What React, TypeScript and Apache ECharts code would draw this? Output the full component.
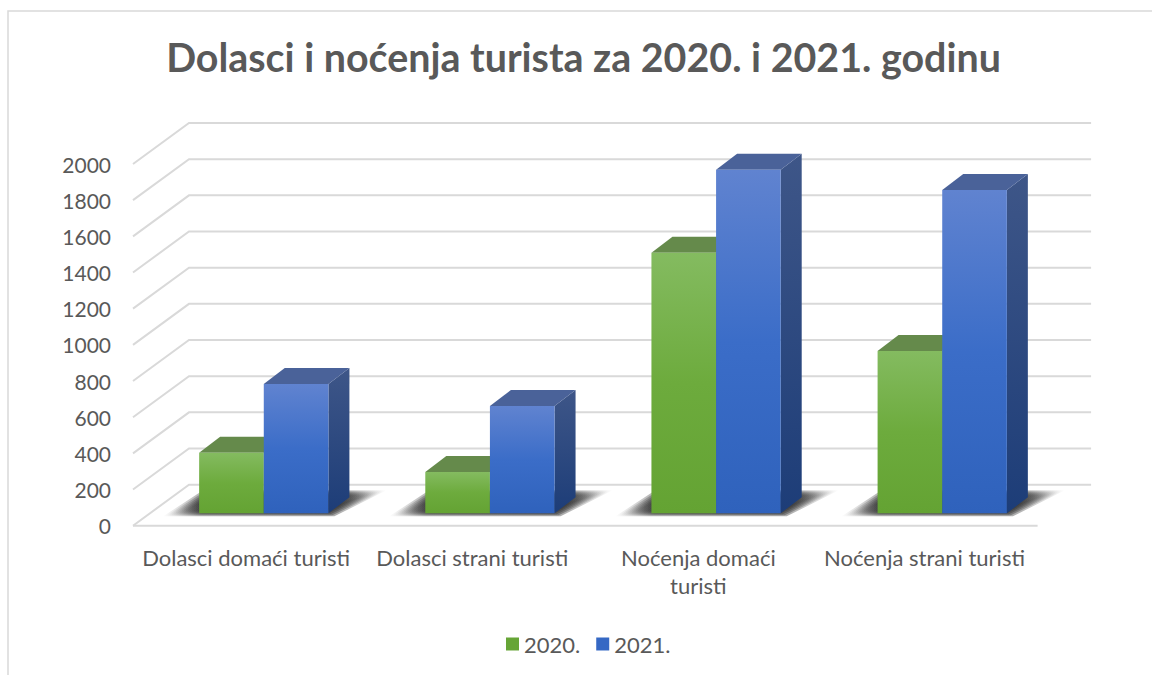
import React, { useEffect, useRef } from "react";
import * as echarts from "echarts";

const title = "Dolasci i noćenja turista za 2020. i 2021. godinu";
const categories = ["Dolasci domaći turisti", "Dolasci strani turisti", "Noćenja domaći\nturisti", "Noćenja strani turisti"];
const yearNames = ["2020.", "2021."];
const values2020 = [335, 228, 1441, 898];
const values2021 = [715, 593, 1899, 1788];
const yTicks = [0, 200, 400, 600, 800, 1000, 1200, 1400, 1600, 1800, 2000];

const FONT = "Lato";
const TEXT = "#595959";
const GRID = "#D9D9D9";
const WALL_DX = 56;
const WALL_RIGHT_DX = 53.5;
const WALL_DY = -41;
const BAR_SHIFT_X = 17.7;
const BAR_SHIFT_Y = -12.4;
const DEPTH_X = 21;
const DEPTH_Y = -16;
const BAR_RATIO = 0.2858;

const grad = (stops: string[]) => ({
  type: "linear", x: 0, y: 0, x2: 0, y2: 1,
  colorStops: stops.map((color, i) => ({ offset: i / (stops.length - 1), color })),
});

const palettes = [
  { legend: "#66A536", front: grad(["#84BB60", "#6DAB3D", "#64A333"]), top: "#658A4B", side: grad(["#4F7B33", "#3E6A22"]) },
  { legend: "#3568C4", front: grad(["#6083D0", "#3B6DC8", "#2F62BC"]), top: "#4A6299", side: grad(["#3E5688", "#1D3D78"]) },
];

const shadowFill = {
  type: "linear", x: 0, y: 0, x2: 1, y2: 0,
  colorStops: [
    { offset: 0, color: "rgba(40,40,40,0)" },
    { offset: 0.16, color: "rgba(40,40,40,0.34)" },
    { offset: 0.78, color: "rgba(40,40,40,0.38)" },
    { offset: 1, color: "rgba(40,40,40,0)" },
  ],
};
const shadowLayers = [-4, -2, 0, 2, 4, 6];

const gridItem = (params: any, api: any) => {
  const cs = params.coordSys;
  const y = api.coord([0, api.value(1)])[1];
  const left = cs.x;
  const right = cs.x + cs.width;
  const children: any[] = [{
    type: "polyline",
    shape: { points: [[left, y], [left + WALL_DX, y + WALL_DY], [right + WALL_RIGHT_DX, y + WALL_DY]] },
    style: { fill: "none", stroke: GRID, lineWidth: 2 },
  }];
  if (api.value(1) === 0) {
    children.push({
      type: "line",
      shape: { x1: left, y1: y, x2: right, y2: y },
      style: { stroke: GRID, lineWidth: 2 },
    });
  }
  return { type: "group", children };
};

const barGeom = (api: any) => {
  const i = api.value(0);
  const band = api.size([1, 0])[0];
  const w = band * BAR_RATIO;
  const cx = api.coord([i, 0])[0] + BAR_SHIFT_X;
  const base = api.coord([i, 0])[1] + BAR_SHIFT_Y;
  return { w, cx, base };
};

const shadowItem = (_: any, api: any) => {
  const { w, cx, base } = barGeom(api);
  const l = cx - w;
  const r = cx + w;
  return {
    type: "group",
    children: shadowLayers.map((d) => ({
      type: "polygon",
      shape: {
        points: [
          [l - 28 + d * 2, base + 1 - d * 0.5],
          [r + 2 - d, base + 1 - d * 0.5],
          [r + 50 - d * 2, base - 21 + d * 0.5],
          [l + 8 + d, base - 21 + d * 0.5],
        ],
      },
      style: { fill: shadowFill },
    })),
  };
};

const barItem = (seriesIndex: number) => (_: any, api: any) => {
  const { w, cx, base } = barGeom(api);
  const top = api.coord([api.value(0), api.value(1)])[1] + BAR_SHIFT_Y;
  const l = seriesIndex === 0 ? cx - w : cx;
  const r = l + w;
  const p = palettes[seriesIndex];
  return {
    type: "group",
    children: [
      {
        type: "polygon",
        shape: { points: [[r, base], [r + DEPTH_X, base + DEPTH_Y], [r + DEPTH_X, top + DEPTH_Y], [r, top]] },
        style: { fill: p.side },
      },
      {
        type: "polygon",
        shape: { points: [[l, top], [l + DEPTH_X, top + DEPTH_Y], [r + DEPTH_X, top + DEPTH_Y], [r, top]] },
        style: { fill: p.top },
      },
      { type: "rect", shape: { x: l, y: top, width: w, height: base - top }, style: { fill: p.front } },
    ],
  };
};

export default function App() {
  const ref = useRef<HTMLDivElement>(null);
  useEffect(() => {
    const chart = echarts.init(ref.current!, null, { renderer: "svg" });
    const barSeries = [values2020, values2021].map((vals, s) => ({
      type: "custom",
      name: yearNames[s],
      z: 5 + s,
      clip: false,
      silent: true,
      encode: { x: 0, y: 1 },
      itemStyle: { color: palettes[s].legend },
      renderItem: barItem(s),
      data: vals.map((v, i) => [i, v]),
    }));
    chart.setOption({
      animation: false,
      backgroundColor: "#FFFFFF",
      textStyle: { fontFamily: FONT },
      title: {
        text: title,
        left: 578.5,
        top: 32,
        textAlign: "center",
        textStyle: { fontFamily: FONT, fontSize: 39.4, fontWeight: "bold", color: TEXT },
      },
      legend: {
        data: yearNames,
        left: 501,
        top: 628,
        itemWidth: 13,
        itemHeight: 13,
        itemGap: 16,
        icon: "rect",
        textStyle: { fontFamily: FONT, fontSize: 22, color: TEXT },
      },
      grid: { left: 133, right: 114.4, top: 164, height: 361.7, containLabel: false },
      xAxis: {
        type: "category",
        data: categories,
        axisLine: { show: false },
        axisTick: { show: false },
        axisLabel: { interval: 0, fontFamily: FONT, fontSize: 22, color: TEXT, lineHeight: 28, margin: 18 },
      },
      yAxis: {
        type: "value",
        min: 0,
        max: 2000,
        interval: 200,
        axisLine: { show: false },
        axisTick: { show: false },
        splitLine: { show: false },
        axisLabel: { fontFamily: FONT, fontSize: 21, color: TEXT, margin: 22, formatter: (v: number) => String(v) },
      },
      graphic: [{
        type: "polyline",
        silent: true,
        shape: { points: [[8, 675], [8, 11], [1152, 11]] },
        style: { fill: "none", stroke: GRID, lineWidth: 1.5 },
      }],
      series: [
        {
          type: "custom", name: "grid", z: 1, clip: false, silent: true,
          encode: { x: 0, y: 1 }, renderItem: gridItem,
          data: yTicks.map((t) => [0, t]),
        },
        {
          type: "custom", name: "shadow", z: 2, clip: false, silent: true,
          encode: { x: 0, y: 1 }, renderItem: shadowItem,
          data: categories.map((_, i) => [i, 0]),
        },
        ...barSeries,
      ],
    });
    return () => chart.dispose();
  }, []);
  return <div ref={ref} style={{ position: "fixed", left: 0, top: 0, width: 1152, height: 675 }} />;
}
